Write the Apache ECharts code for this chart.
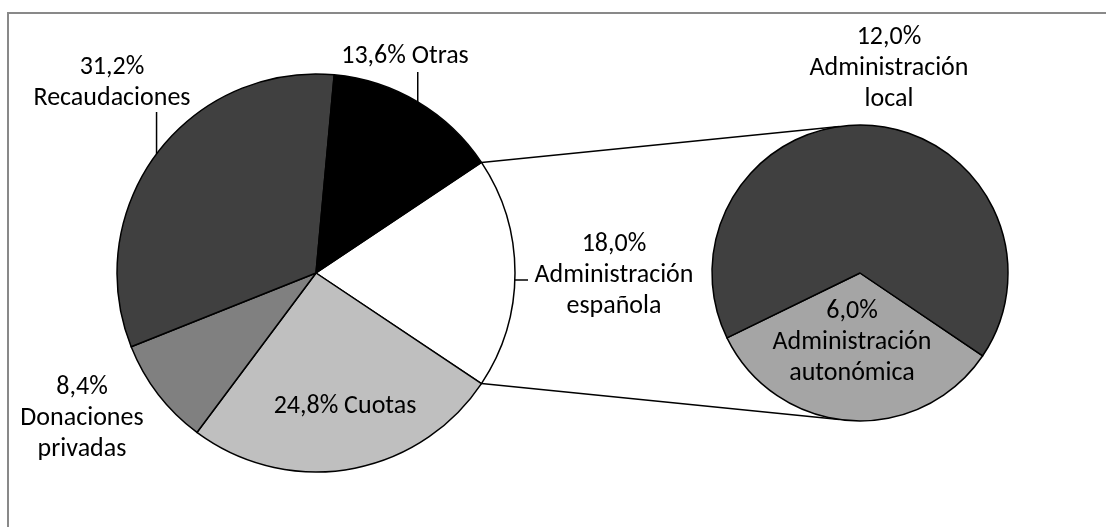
<!DOCTYPE html>
<html>
<head>
<meta charset="utf-8">
<script src="https://cdn.jsdelivr.net/npm/echarts@6/dist/echarts.min.js"></script>
<style>
html, body { margin: 0; padding: 0; background: #fff; }
#chart { width: 1106px; height: 527px; }
</style>
</head>
<body>
<div id="chart"></div>
<script>
// pie principal
const mainNames = ['Administración española', 'Cuotas', 'Donaciones privadas', 'Recaudaciones', 'Otras'];
const mainValues = [18.0, 24.8, 8.4, 31.2, 13.6];
const mainColors = ['#ffffff', '#bfbfbf', '#808080', '#404040', '#000000'];
// desglose de Administración española
const subNames = ['Administración autonómica', 'Administración local'];
const subValues = [6.0, 12.0];
const subColors = ['#a5a5a5', '#404040'];

const inlineNames = ['Otras', 'Cuotas'];

const C1 = [316, 273], R1 = 199;
const C2 = [860, 273], R2 = 148;
const mainTotal = mainValues.reduce((a, b) => a + b, 0);
const mainStart = mainValues[0] / mainTotal * 180; // slice blanco centrado a la derecha
const subStart = 326;

// centro de cada etiqueta
const labelPos = {
  'Administración española': [614, 275],
  'Cuotas': [345, 406],
  'Donaciones privadas': [82, 418],
  'Recaudaciones': [112, 83],
  'Otras': [405, 56],
  'Administración autonómica': [852, 342],
  'Administración local': [889, 68]
};
// fin (y) de las líneas guía verticales
const leaderTop = { 'Otras': 72, 'Recaudaciones': 112 };

const FONT = 'Carlito, Calibri, Lato, sans-serif';

function fmt(p) {
  const pct = p.value.toFixed(1).replace('.', ',') + '%';
  if (inlineNames.indexOf(p.name) >= 0) return pct + ' ' + p.name;
  return pct + '\n' + p.name.replace(' ', '\n');
}

function layout(names) {
  return function (params) {
    const name = names[params.dataIndex];
    const pos = labelPos[name];
    const res = { x: pos[0], y: pos[1], align: 'center', verticalAlign: 'middle' };
    const pts = params.labelLinePoints;
    if (leaderTop[name] != null && pts) {
      const s = pts[0];
      res.labelLinePoints = [[s[0], s[1]], [s[0], leaderTop[name]], [s[0], leaderTop[name]]];
    } else if (name === 'Administración española' && pts) {
      const s = pts[0];
      res.labelLinePoints = [[s[0], s[1] + 7], [s[0] + 13, s[1] + 7], [s[0] + 13, s[1] + 7]];
    }
    return res;
  };
}

function pt(c, r, deg) {
  const a = deg * Math.PI / 180;
  return [c[0] + r * Math.cos(a), c[1] - r * Math.sin(a)];
}

const up1 = pt(C1, R1, mainStart), up2 = pt(C2, R2, 98);
const lo1 = pt(C1, R1, -mainStart), lo2 = pt(C2, R2, -98);

const labelStyle = {
  show: true,
  formatter: fmt,
  fontFamily: FONT,
  fontSize: 26,
  lineHeight: 31,
  color: '#000',
  align: 'center'
};

const mainData = mainNames.map((n, i) => ({
  name: n,
  value: mainValues[i],
  itemStyle: { color: mainColors[i] },
  labelLine: { show: leaderTop[n] != null || n === 'Administración española' }
}));
const subData = subNames.map((n, i) => ({
  name: n,
  value: subValues[i],
  itemStyle: { color: subColors[i] },
  labelLine: { show: false }
}));

const chart = echarts.init(document.getElementById('chart'));
chart.setOption({
  animation: false,
  backgroundColor: '#fff',
  graphic: [
    { type: 'rect', z: 0, shape: { x: 8, y: 13, width: 1200, height: 600 },
      style: { fill: 'none', stroke: '#898989', lineWidth: 2 } },
    { type: 'line', z: 1, shape: { x1: up1[0], y1: up1[1], x2: up2[0], y2: up2[1] },
      style: { stroke: '#000', lineWidth: 1.5 } },
    { type: 'line', z: 1, shape: { x1: lo1[0], y1: lo1[1], x2: lo2[0], y2: lo2[1] },
      style: { stroke: '#000', lineWidth: 1.5 } }
  ],
  series: [
    {
      type: 'pie',
      center: C1,
      radius: R1,
      startAngle: mainStart,
      clockwise: true,
      avoidLabelOverlap: false,
      silent: true,
      itemStyle: { borderColor: '#000', borderWidth: 1.5 },
      label: labelStyle,
      labelLine: { lineStyle: { color: '#000', width: 1.5 }, length: 10, length2: 0 },
      labelLayout: layout(mainNames),
      data: mainData
    },
    {
      type: 'pie',
      center: C2,
      radius: R2,
      startAngle: subStart,
      clockwise: true,
      avoidLabelOverlap: false,
      silent: true,
      itemStyle: { borderColor: '#000', borderWidth: 1.5 },
      label: labelStyle,
      labelLayout: layout(subNames),
      data: subData
    }
  ]
});
</script>
</body>
</html>
